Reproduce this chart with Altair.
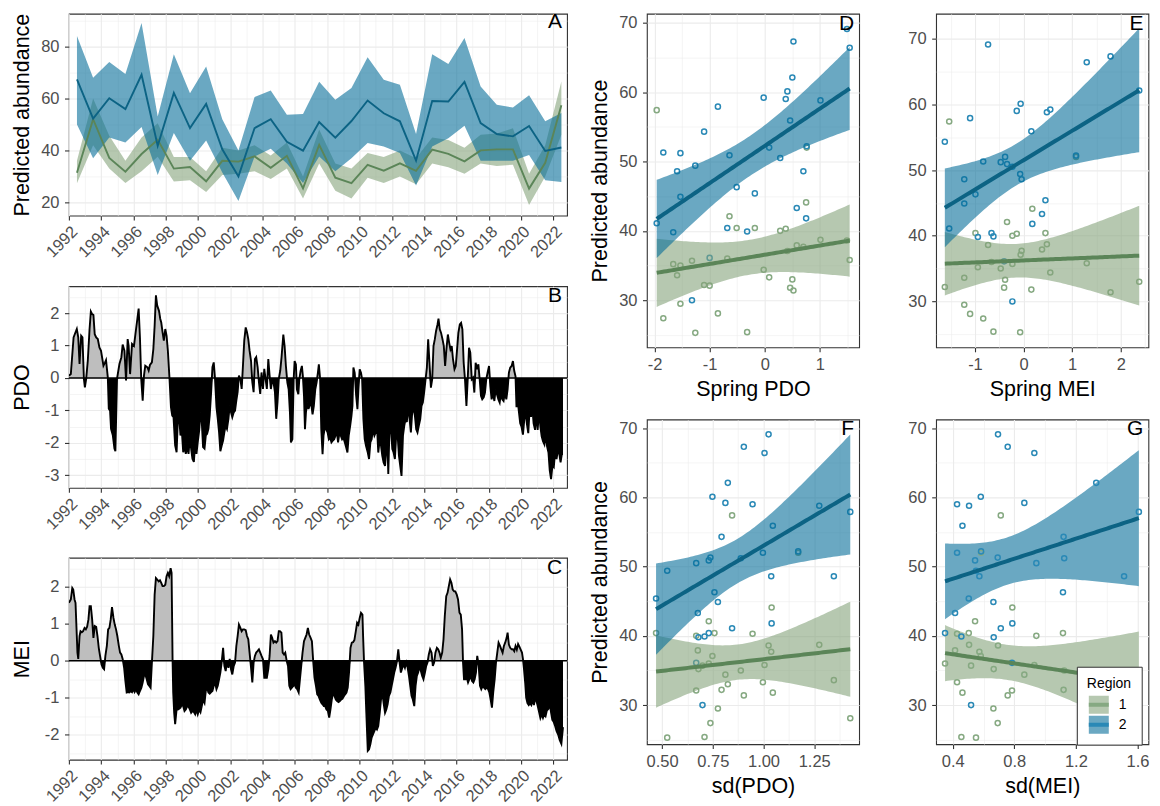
import altair as alt
import numpy as np
import pandas as pd

FONT = "Liberation Sans"

# ---------------- annual values (one entry per year) ----------------
years = list(range(1992, 2023))
abund_r1 = [31.4, 52.0, 37.1, 31.8, 38.6, 44.1, 33.0, 33.6, 28.1, 36.0, 35.7, 37.7, 33.3, 37.9, 25.4, 42.1,
            29.5, 27.4, 34.4, 32.2, 35.0, 32.1, 40.3, 38.7, 35.8, 40.0, 40.4, 40.4, 25.3, 35.2, 57.4]
abund_r2 = [67.3, 52.2, 60.1, 55.9, 69.1, 41.8, 62.1, 48.6, 57.9, 40.4, 30.0, 48.6, 52.0, 43.3, 39.9, 50.9,
            44.9, 51.3, 59.2, 54.3, 51.2, 36.1, 59.0, 58.8, 66.4, 50.5, 46.3, 45.4, 49.4, 39.8, 41.1]
r1_lo = [27.4, 42.0, 33.0, 27.5, 32.0, 37.6, 28.0, 28.5, 24.0, 30.5, 31.0, 32.0, 29.0, 33.0, 21.5, 35.0,
         24.5, 21.5, 29.5, 27.5, 30.0, 27.0, 35.0, 33.5, 31.0, 35.0, 34.0, 34.5, 19.0, 30.0, 46.0]
r1_hi = [36.0, 60.0, 45.6, 36.0, 45.0, 50.4, 37.5, 37.5, 32.0, 41.0, 40.0, 42.0, 38.0, 43.0, 30.0, 48.0,
         35.0, 33.0, 39.0, 37.5, 40.0, 37.0, 45.0, 44.0, 41.0, 46.0, 46.5, 48.5, 31.0, 42.0, 66.5]
r2_lo = [50.0, 37.0, 45.0, 43.0, 49.0, 30.5, 46.7, 36.0, 43.8, 31.5, 20.5, 37.7, 40.6, 35.0, 27.5, 37.7,
         32.0, 37.0, 42.8, 41.5, 39.0, 26.5, 41.5, 44.7, 49.5, 36.0, 36.0, 36.0, 38.2, 28.5, 27.8]
r2_hi = [84.0, 68.0, 74.0, 69.4, 89.0, 53.0, 77.0, 62.0, 72.3, 52.0, 40.0, 60.5, 63.0, 53.7, 54.0, 66.4,
         59.5, 64.0, 75.8, 67.2, 65.3, 46.3, 77.0, 73.2, 83.2, 64.6, 57.6, 56.5, 61.2, 51.2, 54.4]
spring_pdo = [0.52, 0.76, 0.41, 0.46, 1.49, 0.75, 0.50, -1.59, -0.85, -0.68, -1.32, 0.70, 0.08, 0.58, -0.32, -0.64,
              -1.53, -1.84, -0.02, -1.10, -1.53, -1.00, 0.38, 1.01, 1.54, 0.28, -0.51, -0.18, -1.26, -1.66, -1.96]
spring_mei = [1.79, 1.08, -0.06, 0.16, -0.73, 0.18, 2.38, -1.22, -1.10, -0.66, -0.23, -0.04, -0.38, 0.38, -0.62, -0.34,
              -1.22, -0.83, 0.55, -1.62, -0.47, -0.40, -0.14, 0.48, 1.30, -0.23, -0.99, 0.45, -0.07, -0.94, -1.53]
sd_pdo = [0.903, 1.171, 0.748, 1.046, 1.025, 1.040, 0.824, 1.347, 1.428, 0.730, 0.699, 1.038, 0.997, 0.676, 0.709, 0.730,
          0.775, 0.738, 0.812, 0.793, 0.888, 0.668, 0.946, 1.275, 1.005, 0.668, 0.758, 0.470, 0.525, 0.679, 0.845]
sd_mei = [0.757, 0.584, 0.582, 0.463, 0.694, 0.787, 1.332, 1.513, 1.609, 0.350, 0.519, 0.573, 0.428, 0.415, 0.456, 0.545,
          0.664, 0.692, 0.865, 1.120, 1.124, 0.785, 0.428, 0.506, 0.930, 0.943, 1.116, 0.504, 0.551, 0.666, 0.712]

pdo_t = [1992.00, 1992.12, 1992.29, 1992.41, 1992.49, 1992.58, 1992.66, 1992.76, 1992.84, 1992.93, 1992.99,
         1993.07, 1993.17, 1993.28, 1993.36, 1993.44, 1993.52, 1993.60, 1993.69, 1993.79, 1993.89, 1993.99,
         1994.14, 1994.24, 1994.30, 1994.41, 1994.47, 1994.55, 1994.61, 1994.72, 1994.82, 1994.88, 1994.98,
         1995.13, 1995.25, 1995.33, 1995.44, 1995.54, 1995.64, 1995.70, 1995.79, 1995.91,
         1996.03, 1996.16, 1996.24, 1996.32, 1996.40, 1996.48, 1996.57, 1996.65, 1996.73, 1996.86, 1996.94,
         1997.02, 1997.14, 1997.23, 1997.31, 1997.39, 1997.47, 1997.58, 1997.66, 1997.72, 1997.80, 1997.88, 1997.97,
         1998.05, 1998.13, 1998.23, 1998.32, 1998.40, 1998.48, 1998.58, 1998.67, 1998.75, 1998.83, 1998.91,
         1999.00, 1999.08, 1999.16, 1999.24, 1999.33, 1999.41, 1999.49, 1999.57, 1999.65, 1999.74, 1999.82, 1999.90, 1999.98,
         2000.07, 2000.15, 2000.23, 2000.31, 2000.40, 2000.48, 2000.56, 2000.64, 2000.72, 2000.81, 2000.89, 2000.97,
         2001.05, 2001.14, 2001.22, 2001.30, 2001.38, 2001.47, 2001.55, 2001.63, 2001.71, 2001.79, 2001.88, 2001.96,
         2002.04, 2002.12, 2002.21, 2002.29, 2002.37, 2002.45, 2002.53, 2002.62, 2002.70, 2002.78, 2002.86, 2002.95,
         2003.03, 2003.11, 2003.19, 2003.28, 2003.36, 2003.44, 2003.52, 2003.60, 2003.69, 2003.77, 2003.85, 2003.93,
         2004.02, 2004.10, 2004.18, 2004.26, 2004.35, 2004.43, 2004.51, 2004.59, 2004.67, 2004.76, 2004.84, 2004.92,
         2005.00, 2005.09, 2005.17, 2005.28, 2005.36, 2005.44, 2005.53, 2005.61, 2005.69, 2005.75, 2005.84, 2005.92, 2005.98,
         2006.06, 2006.12, 2006.21, 2006.27, 2006.35, 2006.43, 2006.49, 2006.56, 2006.62, 2006.68, 2006.76, 2006.84, 2006.93,
         2007.01, 2007.09, 2007.17, 2007.26, 2007.34, 2007.42, 2007.48, 2007.56, 2007.63, 2007.71, 2007.77, 2007.85, 2007.93,
         2008.02, 2008.10, 2008.18, 2008.26, 2008.35, 2008.43, 2008.51, 2008.60, 2008.67, 2008.76, 2008.84, 2008.92,
         2009.00, 2009.09, 2009.17, 2009.25, 2009.33, 2009.42, 2009.50, 2009.56, 2009.62, 2009.70, 2009.79, 2009.87, 2009.93,
         2010.01, 2010.09, 2010.16, 2010.24, 2010.32, 2010.40, 2010.51, 2010.59, 2010.67, 2010.75, 2010.83, 2010.92,
         2011.00, 2011.08, 2011.16, 2011.25, 2011.33, 2011.41, 2011.49, 2011.58, 2011.66, 2011.72, 2011.78, 2011.86, 2011.95,
         2012.03, 2012.11, 2012.19, 2012.28, 2012.36, 2012.44, 2012.52, 2012.60, 2012.69, 2012.77, 2012.85, 2012.93,
         2013.01, 2013.10, 2013.18, 2013.26, 2013.35, 2013.43, 2013.51, 2013.59, 2013.67, 2013.76, 2013.84, 2013.92,
         2014.00, 2014.09, 2014.17, 2014.25, 2014.33, 2014.42, 2014.50, 2014.58, 2014.66, 2014.74, 2014.83, 2014.89, 2014.97,
         2015.05, 2015.14, 2015.22, 2015.30, 2015.38, 2015.47, 2015.55, 2015.63, 2015.71, 2015.79, 2015.88, 2015.96,
         2016.04, 2016.12, 2016.21, 2016.29, 2016.37, 2016.45, 2016.53, 2016.62, 2016.70, 2016.78, 2016.86, 2016.95,
         2017.03, 2017.11, 2017.19, 2017.28, 2017.36, 2017.44, 2017.52, 2017.60, 2017.69, 2017.77, 2017.85, 2017.93,
         2018.02, 2018.10, 2018.18, 2018.26, 2018.35, 2018.43, 2018.51, 2018.60, 2018.68, 2018.76, 2018.84, 2018.92,
         2019.00, 2019.09, 2019.17, 2019.25, 2019.33, 2019.42, 2019.50, 2019.58, 2019.66, 2019.72, 2019.78, 2019.86, 2019.95,
         2020.03, 2020.12, 2020.20, 2020.28, 2020.36, 2020.45, 2020.53, 2020.62, 2020.70, 2020.78, 2020.87, 2020.95,
         2021.03, 2021.12, 2021.20, 2021.28, 2021.36, 2021.45, 2021.53, 2021.61, 2021.70, 2021.78, 2021.86, 2021.95,
         2022.03, 2022.11, 2022.20, 2022.28, 2022.36, 2022.45, 2022.53, 2022.60]
pdo_v = [0.07, 0.12, 1.25, 1.41, 1.51, 1.25, 0.43, 1.30, 1.25, -0.03, -0.29,
         -0.03, 0.53, 1.51, 2.05, 1.97, 1.94, 1.35, 1.25, 1.20, 0.94, 0.84,
         0.38, 0.48, 0.55, 0.02, -0.95, -1.01, -1.57, -1.77, -2.18, -2.26, -0.03,
         0.43, 0.64, 1.03, 0.84, -0.08, 1.20, 0.99, 0.12, 1.05,
         0.99, 1.51, 1.82, 2.14, 1.25, -0.03, -0.70, 0.07, 0.38, 0.33, 0.23,
         0.40, 0.48, 0.89, 1.61, 2.55, 2.23, 2.07, 1.82, 1.71, 1.41, 1.15, 1.51,
         1.30, 0.84, -0.01, -0.90, -1.16, -1.21, -2.08, -2.29, -1.26, -1.21, -1.77,
         -1.67, -2.29, -2.08, -2.34, -2.13, -2.34, -1.83, -2.18, -2.49, -2.59, -2.03, -2.34, -1.98,
         -1.62, -1.06, -1.36, -2.13, -2.18, -1.77, -1.72, -1.57, -1.16, -0.44, 0.33, 0.48,
         -0.03, -0.90, -1.26, -1.67, -2.26, -2.08, -1.93, -1.67, -1.47, -1.57, -1.26, -0.85,
         -1.06, -1.21, -1.06, -1.01, -0.70, -0.44, 0.07, -0.03, -0.34, 0.38, 1.15, 1.56,
         1.41, 1.20, 0.84, 0.53, -0.13, -0.44, 0.58, 0.64, 0.33, -0.13, -0.49, 0.17,
         -0.34, 0.28, -0.03, -0.34, 0.58, 0.07, -0.34, -0.08, -0.13, -0.44, -1.26, -0.75,
         -0.03, 0.23, 0.64, 1.34, 0.98, 0.37, -0.14, -0.35, -1.07, -1.99, -1.89, -0.04, 0.52,
         0.42, -0.35, -0.50, -0.04, 0.22, 0.37, 0.06, -0.55, -1.58, -1.07, -0.76, -0.96, -0.81,
         -0.81, -1.12, -0.86, -0.35, -0.14, 0.16, 0.42, -0.04, -1.58, -2.35, -1.78, -1.53, -1.58,
         -1.68, -1.89, -1.84, -1.99, -1.93, -1.89, -1.78, -1.68, -1.99, -1.68, -1.78, -1.89,
         -1.84, -1.99, -2.14, -2.30, -1.78, -1.48, -1.17, -0.86, 0.32, 0.16, -0.55, -0.96, -0.35,
         0.27, 0.16, -0.04, -1.27, -1.89, -2.09, -2.30, -2.50, -1.99, -1.89, -1.58, -1.78,
         -1.68, -1.48, -2.30, -1.89, -2.09, -2.40, -2.61, -2.71, -2.19, -1.89, -2.96, -1.48, -1.58,
         -2.19, -2.30, -2.50, -1.68, -1.78, -2.40, -2.71, -3.02, -1.78, -1.48, -1.27, -1.36,
         -0.86, -1.27, -1.68, -1.07, -0.96, -1.17, -1.58, -1.68, -1.48, -1.27, -0.86, -0.76,
         -0.45, -0.04, 0.32, 1.19, 0.47, -0.30, -0.04, 0.98, 1.19, 1.45, 1.65, 1.83, 1.50,
         1.39, 1.19, 0.98, 0.37, 0.88, 1.34, 1.09, 0.88, 0.98, 0.57, 0.27, 0.37,
         0.88, 1.39, 1.65, 1.70, 1.50, 0.47, -0.04, -0.86, -0.04, 0.93, 0.78, -0.04,
         0.01, -0.45, 0.47, 0.27, 0.42, -0.04, -0.55, -0.66, -0.60, -0.45, -0.04, 0.16,
         0.37, -0.25, -0.66, -0.45, -0.71, -0.35, -0.50, -0.66, -0.76, -0.45, -0.66, -0.71,
         -0.45, -0.66, -0.35, 0.16, 0.32, 0.37, 0.52, 0.22, 0.05, -0.90, -0.60, -1.00, -1.40,
         -1.50, -1.75, -1.30, -1.00, -1.40, -1.70, -1.00, -1.20, -0.90, -1.40, -1.60, -1.10,
         -1.60, -1.00, -1.50, -1.80, -1.95, -2.05, -1.70, -2.10, -2.30, -2.85, -3.12, -2.70,
         -2.75, -2.30, -2.50, -2.25, -2.30, -2.60, -2.35, -2.35]

mei_t = [1992.00, 1992.12, 1992.21, 1992.27, 1992.35, 1992.41, 1992.53, 1992.58, 1992.66, 1992.72, 1992.80, 1992.88, 1992.97,
         1993.05, 1993.13, 1993.21, 1993.28, 1993.36, 1993.44, 1993.52, 1993.60, 1993.69, 1993.77, 1993.85, 1993.93,
         1994.02, 1994.10, 1994.18, 1994.26, 1994.35, 1994.43, 1994.51, 1994.59, 1994.67, 1994.76, 1994.84, 1994.92,
         1995.00, 1995.09, 1995.17, 1995.25, 1995.33, 1995.42, 1995.50, 1995.58, 1995.66, 1995.74, 1995.83, 1995.91, 1995.99,
         1996.07, 1996.16, 1996.24, 1996.32, 1996.40, 1996.49, 1996.57, 1996.65, 1996.73, 1996.82, 1996.90, 1996.98,
         1997.06, 1997.14, 1997.23, 1997.31, 1997.39, 1997.47, 1997.56, 1997.64, 1997.72, 1997.80, 1997.88, 1997.97,
         1998.05, 1998.13, 1998.21, 1998.30, 1998.36, 1998.42, 1998.46, 1998.52, 1998.58, 1998.67, 1998.75, 1998.83, 1998.91,
         1999.00, 1999.08, 1999.16, 1999.24, 1999.33, 1999.41, 1999.49, 1999.57, 1999.65, 1999.74, 1999.82, 1999.90, 1999.98,
         2000.07, 2000.15, 2000.23, 2000.31, 2000.40, 2000.48, 2000.56, 2000.64, 2000.72, 2000.81, 2000.89, 2000.97,
         2001.05, 2001.14, 2001.22, 2001.30, 2001.38, 2001.46, 2001.55, 2001.63, 2001.71, 2001.79, 2001.88, 2001.96,
         2002.04, 2002.12, 2002.21, 2002.29, 2002.37, 2002.45, 2002.53, 2002.62, 2002.70, 2002.78, 2002.86, 2002.95,
         2003.03, 2003.11, 2003.19, 2003.28, 2003.36, 2003.44, 2003.52, 2003.60, 2003.68, 2003.77, 2003.85, 2003.93,
         2004.02, 2004.10, 2004.18, 2004.26, 2004.35, 2004.43, 2004.51, 2004.59, 2004.67, 2004.76, 2004.84, 2004.92,
         2005.00, 2005.07, 2005.16, 2005.24, 2005.32, 2005.40, 2005.49, 2005.57, 2005.65, 2005.73, 2005.81, 2005.90, 2005.98,
         2006.06, 2006.14, 2006.23, 2006.31, 2006.39, 2006.47, 2006.56, 2006.64, 2006.72, 2006.80, 2006.88, 2006.97,
         2007.05, 2007.13, 2007.21, 2007.30, 2007.38, 2007.46, 2007.54, 2007.63, 2007.71, 2007.79, 2007.87, 2007.95,
         2008.04, 2008.12, 2008.20, 2008.28, 2008.37, 2008.45, 2008.53, 2008.61, 2008.70, 2008.78, 2008.86, 2008.94,
         2009.02, 2009.11, 2009.19, 2009.27, 2009.35, 2009.44, 2009.52, 2009.60, 2009.68, 2009.77, 2009.85, 2009.93,
         2010.01, 2010.09, 2010.18, 2010.22, 2010.28, 2010.36, 2010.42, 2010.51, 2010.59, 2010.67, 2010.75, 2010.84, 2010.92,
         2011.00, 2011.08, 2011.16, 2011.25, 2011.33, 2011.41, 2011.49, 2011.58, 2011.66, 2011.74, 2011.82, 2011.91, 2011.99,
         2012.07, 2012.15, 2012.23, 2012.32, 2012.40, 2012.48, 2012.56, 2012.65, 2012.73, 2012.81, 2012.89, 2012.98,
         2013.06, 2013.14, 2013.22, 2013.30, 2013.39, 2013.47, 2013.55, 2013.63, 2013.72, 2013.80, 2013.88, 2013.96,
         2014.05, 2014.13, 2014.21, 2014.29, 2014.37, 2014.46, 2014.54, 2014.62, 2014.70, 2014.79, 2014.87, 2014.95,
         2015.03, 2015.12, 2015.20, 2015.28, 2015.37, 2015.45, 2015.53, 2015.61, 2015.69, 2015.77, 2015.86, 2015.93,
         2016.02, 2016.10, 2016.19, 2016.27, 2016.35, 2016.41, 2016.47, 2016.56, 2016.64, 2016.72, 2016.80, 2016.88, 2016.97,
         2017.05, 2017.13, 2017.21, 2017.29, 2017.38, 2017.46, 2017.54, 2017.63, 2017.71, 2017.79, 2017.87, 2017.96,
         2018.04, 2018.12, 2018.20, 2018.28, 2018.37, 2018.45, 2018.53, 2018.61, 2018.70, 2018.78, 2018.86, 2018.94,
         2019.02, 2019.11, 2019.17, 2019.25, 2019.33, 2019.42, 2019.50, 2019.58, 2019.66, 2019.74, 2019.82, 2019.90, 2019.98,
         2020.06, 2020.12, 2020.18, 2020.26, 2020.32, 2020.40, 2020.48, 2020.56, 2020.64, 2020.72, 2020.80, 2020.88, 2020.96,
         2021.02, 2021.10, 2021.20, 2021.28, 2021.36, 2021.44, 2021.52, 2021.60, 2021.70, 2021.78, 2021.86, 2021.94,
         2022.02, 2022.10, 2022.20, 2022.30, 2022.40, 2022.50, 2022.60]
mei_v = [1.57, 1.66, 1.97, 1.93, 1.66, 1.57, 0.22, 0.05, 0.67, 0.80, 0.77, 0.80, 0.89,
         0.85, 0.92, 1.12, 1.48, 1.48, 1.12, 0.62, 0.94, 0.92, 0.67, 0.35, 0.13,
         -0.10, -0.19, -0.23, 0.13, 0.40, 0.85, 0.89, 1.12, 1.45, 1.16, 0.98, 0.85,
         0.67, 0.41, 0.22, 0.17, 0.05, -0.19, -0.55, -0.86, -0.85, -0.86, -0.82, -0.85, -0.77,
         -0.85, -0.77, -0.86, -0.91, -0.82, -0.73, -0.59, -0.41, -0.37, -0.50, -0.64, -0.68,
         -0.73, -0.05, 0.67, 1.79, 2.24, 2.20, 2.15, 2.18, 2.11, 2.02, 2.02, 2.06,
         2.29, 2.38, 2.29, 2.51, 2.38, 0.04, -0.86, -1.41, -1.72, -1.32, -1.32, -1.30, -1.27,
         -1.18, -1.23, -1.36, -1.32, -1.23, -1.24, -1.32, -1.41, -1.36, -1.39, -1.45, -1.32, -1.45,
         -1.32, -1.39, -1.23, -1.05, -1.14, -0.82, -0.73, -0.86, -0.89, -0.85, -0.82, -0.68,
         -0.59, -0.77, -0.68, -0.50, -0.32, -0.05, 0.35, -0.14, -0.28, -0.01, -0.19, 0.05,
         -0.23, -0.37, -0.14, -0.05, 0.40, 0.67, 0.98, 0.89, 0.80, 0.85, 0.85, 0.83,
         0.67, 0.58, 0.22, -0.19, -0.59, -0.05, 0.13, 0.22, 0.26, 0.31, 0.22, 0.13,
         0.04, -0.46, -0.46, -0.46, -0.23, 0.13, 0.71, 0.62, 0.49, 0.53, 0.49, 0.53,
         0.80, 0.80, 0.76, 0.22, 0.17, 0.22, -0.01, -0.14, -0.68, -0.77, -0.73, -0.68, -0.64,
         -0.73, -0.77, -0.86, -0.50, -0.14, 0.22, 0.53, 0.62, 0.71, 0.89, 0.71, 0.62,
         0.53, -0.01, -0.46, -0.68, -0.91, -0.95, -1.05, -1.14, -1.18, -1.23, -1.23, -1.32,
         -1.36, -1.54, -1.32, -1.05, -0.86, -0.95, -1.05, -1.09, -1.12, -1.09, -1.05, -1.03,
         -0.97, -0.91, -0.86, -0.73, -0.32, 0.35, 0.49, 0.50, 0.56, 0.80, 1.03, 0.98,
         1.16, 1.30, 1.25, 0.67, -0.05, -0.68, -1.41, -2.44, -2.40, -2.26, -2.08, -1.99, -1.90,
         -1.81, -1.86, -1.77, -1.41, -1.05, -0.86, -1.14, -1.41, -1.32, -1.18, -0.95, -0.86, -0.68,
         -0.50, -0.32, -0.19, -0.01, 0.31, -0.05, -0.32, -0.19, -0.10, -0.19, -0.05, -0.19,
         -0.41, -0.68, -0.95, -1.05, -1.23, -0.68, -0.41, -0.32, -0.14, -0.28, -0.41, -0.50,
         -0.32, -0.14, -0.05, 0.17, 0.31, 0.22, -0.14, -0.05, 0.22, 0.35, 0.31, 0.22,
         0.08, 0.22, 0.58, 1.21, 1.75, 1.84, 2.02, 2.20, 2.11, 1.93, 1.88, 1.88,
         1.79, 1.66, 1.30, 1.25, 0.85, -0.05, -0.50, -0.50, -0.46, -0.59, -0.50, -0.41, -0.55,
         -0.59, -0.50, -0.32, 0.13, -0.14, -0.68, -0.77, -0.68, -0.73, -0.77, -0.73, -0.77,
         -0.86, -1.05, -1.27, -0.86, -0.50, -0.05, 0.22, 0.49, 0.40, 0.31, 0.22, 0.40,
         0.49, 0.62, 0.76, 0.44, 0.35, 0.31, 0.31, 0.26, 0.40, 0.30, 0.45, 0.38, 0.30,
         0.22, 0.05, -0.20, -0.60, -1.00, -1.15, -1.20, -1.15, -1.20, -1.05, -1.20, -1.00, -1.10,
         -1.20, -1.35, -1.55, -1.45, -1.55, -1.45, -1.50, -1.35, -1.30, -1.15, -1.40, -1.60,
         -1.65, -1.75, -1.90, -2.00, -2.15, -2.25, -1.80]

regions = ["1", "2"]

# ---------------- styling ----------------
GREEN_LINE, BLUE_LINE = "#5b8558", "#0c6384"
GREEN_BAND, BLUE_BAND = "#85a37b", "#076e99"          # drawn at 60 % opacity
GREEN_BAND_SOLID, BLUE_BAND_SOLID = "#b6c8b0", "#6aa8c2"  # same colours as seen on white
GREEN_PT, BLUE_PT = "#86a982", "#2a89b6"
BAND_OPACITY = 0.6
LABEL_SIZE = 16.5
TITLE_SIZE = 21.5

fill_scale = alt.Scale(domain=regions, range=[GREEN_BAND, BLUE_BAND])
fill_scale_solid = alt.Scale(domain=regions, range=[GREEN_BAND_SOLID, BLUE_BAND_SOLID])
stroke_scale = alt.Scale(domain=regions, range=[GREEN_LINE, BLUE_LINE])
pt_scale = alt.Scale(domain=regions, range=[GREEN_PT, BLUE_PT])


def tick_props(majors, allvals, fmt=None):
    arr = "[" + ",".join(repr(float(m)) for m in majors) + "]"
    test = f"indexof({arr}, datum.value) >= 0"
    lab = "'' + datum.value" if fmt is None else f"format(datum.value, '{fmt}')"
    return dict(values=[float(v) for v in allvals], labelExpr=f"{test} ? {lab} : ''",
                tickOpacity={"condition": {"test": test, "value": 1}, "value": 0},
                gridWidth={"condition": {"test": test, "value": 1.1}, "value": 0.55},
                labelOverlap=False, labelFlush=False)


def y_axis(majors, allvals, title, height, fmt=None):
    props = tick_props(majors, allvals, fmt)
    if title:
        return alt.Axis(title=title, titleX=-40, titleY=height / 2, titleAngle=270, titleAlign="center",
                        titleBaseline="alphabetic", labelPadding=5.5, **props)
    return alt.Axis(title=None, labelPadding=5.5, **props)


def x_axis(majors, allvals, title, width, fmt=None):
    props = tick_props(majors, allvals, fmt)
    return alt.Axis(title=title, titleX=width / 2, titleY=48.5, titleAlign="center",
                    titleBaseline="alphabetic", labelPadding=5, **props)


year_axis = alt.Axis(title=None, labelAngle=315, labelAlign="right", labelBaseline="top", labelPadding=3,
                     **tick_props(list(range(1992, 2023, 2)), years))


def letter(txt):
    return alt.TitleParams(txt, anchor="end", frame="group", orient="top", offset=-20, fontSize=21,
                           fontWeight="normal", color="black", font=FONT, dx=-5)


# ---------------- panel A ----------------
W_L = 499
YEAR_DOM = [1992, 2022.85]
dfA = pd.DataFrame({
    "t": [y + 0.5 for y in years] * 2,
    "abund": abund_r1 + abund_r2,
    "lo": r1_lo + r2_lo,
    "hi": r1_hi + r2_hi,
    "Region": ["1"] * len(years) + ["2"] * len(years),
})
hA = 202.3
xsA = alt.Scale(domain=YEAR_DOM, nice=False, zero=False)
ysA = alt.Scale(domain=[14.9, 92.6], nice=False, zero=False)
axA = y_axis([20, 40, 60, 80], [20, 30, 40, 50, 60, 70, 80, 90], "Predicted abundance", hA)
bandA = alt.Chart(dfA).mark_area(opacity=BAND_OPACITY, clip=True).encode(
    x=alt.X("t:Q", scale=xsA, axis=year_axis),
    y=alt.Y("lo:Q", scale=ysA, axis=axA), y2="hi:Q",
    fill=alt.Fill("Region:N", scale=fill_scale, legend=None))
lineA = alt.Chart(dfA).mark_line(strokeWidth=1.9, clip=True).encode(
    x=alt.X("t:Q", scale=xsA, axis=year_axis),
    y=alt.Y("abund:Q", scale=ysA, axis=axA),
    stroke=alt.Stroke("Region:N", scale=stroke_scale, legend=None))
panelA = alt.layer(bandA, lineA).properties(width=W_L, height=hA, title=letter("A"))


# ---------------- panels B, C ----------------
def index_panel(t, v, ydom, ymaj, yall, ytitle, h, lab):
    df = pd.DataFrame({"t": t, "v": v})
    xs = alt.Scale(domain=YEAR_DOM, nice=False, zero=False)
    ys = alt.Scale(domain=ydom, nice=False, zero=False)
    ax = y_axis(ymaj, yall, ytitle, h)
    base = alt.Chart(df).transform_calculate(pos="max(datum.v, 0)", neg="min(datum.v, 0)", zero="0")
    pos = base.mark_area(color="#bebebe", clip=True).encode(
        x=alt.X("t:Q", scale=xs, axis=year_axis), y=alt.Y("pos:Q", scale=ys, axis=ax), y2="zero:Q")
    neg = base.mark_area(color="black", clip=True).encode(
        x=alt.X("t:Q", scale=xs, axis=year_axis), y=alt.Y("neg:Q", scale=ys, axis=ax), y2="zero:Q")
    zero = alt.Chart(pd.DataFrame({"z": [0.0]})).mark_rule(color="black", strokeWidth=1.6).encode(
        y=alt.Y("z:Q", scale=ys, axis=ax))
    line = base.mark_line(color="black", strokeWidth=1.9, clip=True).encode(
        x=alt.X("t:Q", scale=xs, axis=year_axis), y=alt.Y("v:Q", scale=ys, axis=ax))
    return alt.layer(pos, neg, zero, line).properties(width=W_L, height=h, title=letter(lab))


panelB = index_panel(pdo_t, pdo_v, [-3.39, 2.83], [-3, -2, -1, 0, 1, 2],
                     [-3, -2.5, -2, -1.5, -1, -0.5, 0, 0.5, 1, 1.5, 2, 2.5], "PDO", 202.0, "B")
panelC = index_panel(mei_t, mei_v, [-2.68, 2.79], [-2, -1, 0, 1, 2],
                     [-2.5, -2, -1.5, -1, -0.5, 0, 0.5, 1, 1.5, 2, 2.5], "MEI", 202.3, "C")


# ---------------- panels D-G ----------------
def fit_band(x, y, n_grid=80):
    x = np.asarray(x, float)
    y = np.asarray(y, float)
    n = len(x)
    b1, b0 = np.polyfit(x, y, 1)
    resid = y - (b0 + b1 * x)
    s = np.sqrt((resid ** 2).sum() / (n - 2))
    xbar = x.mean()
    sxx = ((x - xbar) ** 2).sum()
    xg = np.linspace(x.min(), x.max(), n_grid)
    yg = b0 + b1 * xg
    se = s * np.sqrt(1.0 / n + (xg - xbar) ** 2 / sxx)
    tq = 2.045  # t(0.975, df=29)
    return xg, yg, yg - tq * se, yg + tq * se


# one legend: band swatch (fill) with the fitted line (stroke) drawn across its middle
legend_region = alt.Legend(
    title="Region", orient="none", legendX=141, legendY=247.7,
    symbolType="M-1,0L1,0L1,-0.9L-1,-0.9L-1,0.9L1,0.9L1,0",
    symbolSize=400, symbolOpacity=1, symbolStrokeWidth=4, symbolDash=[20, 300],
    clipHeight=20, rowPadding=0, padding=10, titlePadding=4, labelOffset=8,
    titleFontSize=14, labelFontSize=14, titleFontWeight="normal", titleColor="black", labelColor="black",
    titleFont=FONT, labelFont=FONT, strokeColor="#333333", fillColor="white",
)


def scatter_panel(xv, xdom, ydom, xaxis, yaxis, lab, w, h, with_legend=False):
    pts = pd.DataFrame({"x": list(xv) * 2, "y": abund_r1 + abund_r2,
                        "Region": ["1"] * len(xv) + ["2"] * len(xv)})
    rows = []
    for reg, yv in (("1", abund_r1), ("2", abund_r2)):
        xg, yg, lo, hi = fit_band(xv, yv)
        rows.append(pd.DataFrame({"x": xg, "fit": yg, "lo": lo, "hi": hi, "Region": reg}))
    fit = pd.concat(rows, ignore_index=True)
    xs = alt.Scale(domain=xdom, nice=False, zero=False)
    ys = alt.Scale(domain=ydom, nice=False, zero=False)
    p = alt.Chart(pts).mark_point(filled=False, size=26, strokeWidth=1.5, opacity=1, clip=True).encode(
        x=alt.X("x:Q", scale=xs, axis=xaxis), y=alt.Y("y:Q", scale=ys, axis=yaxis),
        color=alt.Color("Region:N", scale=pt_scale, legend=None))
    if with_legend:
        band = alt.Chart(fit).mark_area(opacity=1, clip=True).encode(
            x=alt.X("x:Q", scale=xs, axis=xaxis), y=alt.Y("lo:Q", scale=ys, axis=yaxis), y2="hi:Q",
            fill=alt.Fill("Region:N", scale=fill_scale_solid, legend=legend_region))
        stroke_enc = alt.Stroke("Region:N", scale=stroke_scale, legend=legend_region)
    else:
        band = alt.Chart(fit).mark_area(opacity=BAND_OPACITY, clip=True).encode(
            x=alt.X("x:Q", scale=xs, axis=xaxis), y=alt.Y("lo:Q", scale=ys, axis=yaxis), y2="hi:Q",
            fill=alt.Fill("Region:N", scale=fill_scale, legend=None))
        stroke_enc = alt.Stroke("Region:N", scale=stroke_scale, legend=None)
    line = alt.Chart(fit).mark_line(strokeWidth=4, clip=True).encode(
        x=alt.X("x:Q", scale=xs, axis=xaxis), y=alt.Y("fit:Q", scale=ys, axis=yaxis),
        stroke=stroke_enc)
    layers = (band, p, line) if with_legend else (p, band, line)
    return alt.layer(*layers).properties(width=w, height=h, title=letter(lab))


W_D, W_E = 212.6, 212.7
H_TOP, H_BOT = 334.3, 325.3
Y_MAJ = [30, 40, 50, 60, 70]
Y_ALL = [25, 30, 35, 40, 45, 50, 55, 60, 65, 70]

panelD = scatter_panel(spring_pdo, [-2.138, 1.711], [23.2, 71.3],
                       x_axis([-2, -1, 0, 1], [-2, -1.5, -1, -0.5, 0, 0.5, 1, 1.5], "Spring PDO", W_D),
                       y_axis(Y_MAJ, Y_ALL, "Predicted abundance", H_TOP), "D", W_D, H_TOP)
panelE = scatter_panel(spring_mei, [-1.80, 2.569], [23.0, 73.8],
                       x_axis([-1, 0, 1, 2], [-1.5, -1, -0.5, 0, 0.5, 1, 1.5, 2, 2.5], "Spring MEI", W_E),
                       y_axis(Y_MAJ, Y_ALL, None, H_TOP), "E", W_E, H_TOP)
panelF = scatter_panel(sd_pdo, [0.4247, 1.4716], [24.35, 71.25],
                       x_axis([0.5, 0.75, 1.0, 1.25], [0.5, 0.625, 0.75, 0.875, 1.0, 1.125, 1.25, 1.375],
                              "sd(PDO)", W_D, ".2f"),
                       y_axis(Y_MAJ, Y_ALL, "Predicted abundance", H_BOT), "F", W_D, H_BOT)
panelG = scatter_panel(sd_mei, [0.2917, 1.671], [24.35, 71.25],
                       x_axis([0.4, 0.8, 1.2, 1.6], [0.4, 0.6, 0.8, 1.0, 1.2, 1.4, 1.6], "sd(MEI)", W_E, ".1f"),
                       y_axis(Y_MAJ, Y_ALL, None, H_BOT), "G", W_E, H_BOT, with_legend=True)

IND = dict(fill="independent", stroke="independent", color="independent")
left = alt.vconcat(panelA, panelB, panelC, spacing=70, bounds="flush").resolve_scale(**IND)
row1 = alt.hconcat(panelD, panelE, spacing=76.7, bounds="flush").resolve_scale(**IND)
row2 = alt.hconcat(panelF, panelG, spacing=76.7, bounds="flush").resolve_scale(**IND)
right = alt.vconcat(row1, row2, spacing=16.5).resolve_scale(**IND)

chart = alt.hconcat(left, right, spacing=20).resolve_scale(**IND).properties(
    padding={"left": 3, "top": 2, "right": 2, "bottom": 2}
).configure(font=FONT, background="white").configure_view(
    stroke="#333333", strokeWidth=1.1
).configure_axis(
    domain=False, tickColor="#333333", tickSize=4.4, tickWidth=1.1, labelColor="#4d4d4d",
    labelFontSize=LABEL_SIZE, labelFont=FONT, titleFont=FONT, titleFontSize=TITLE_SIZE,
    titleFontWeight="normal", titleColor="black", gridColor="#ebebeb"
)

chart.save("out.html", embed_options={"renderer": "svg", "actions": False})
